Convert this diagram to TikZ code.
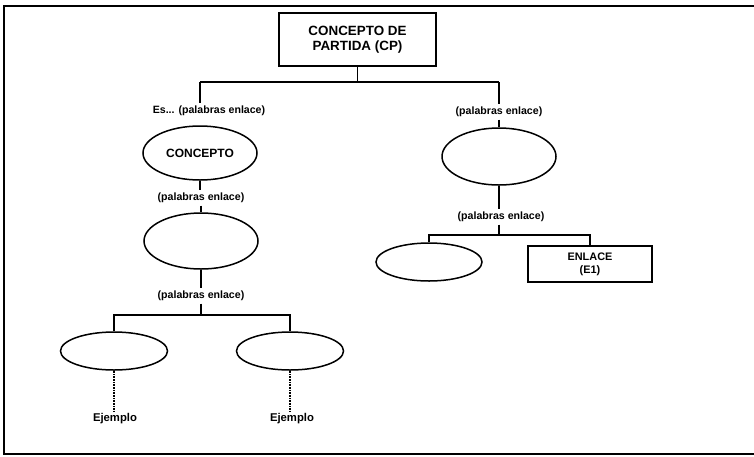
\documentclass[tikz,border=0pt]{standalone}
\usepackage{fontspec}
\setmainfont{Liberation Sans}
\usetikzlibrary{shapes.geometric}
\begin{document}
\begin{tikzpicture}[x=1pt,y=-1pt,
  conn/.style={line width=1.8pt},
  heavy/.style={line width=2.8pt},
  dotline/.style={line width=1.3pt, dash pattern=on 0.8pt off 0.8pt},
  ell/.style={draw, ellipse, line width=1.5pt, inner sep=0pt},
  boxn/.style={draw, rectangle, line width=1.5pt, align=center, inner sep=0pt},
  lab/.style={font=\fontsize{10.6}{12}\selectfont\bfseries, inner sep=2.5pt},
  txt/.style={font=\fontsize{11.3}{12.5}\selectfont\bfseries, inner sep=2pt}]
\useasboundingbox (0,0) rectangle (754,456);
% frame (open on the right)
\draw[line width=2.2pt] (754,6) -- (4,6) -- (4,454) -- (754,454);

% top
\node[boxn, minimum width=157pt, minimum height=53pt,
      font=\fontsize{13.4}{15.5}\selectfont\bfseries] (cp) at (357.5,39.5) {CONCEPTO DE\\PARTIDA (CP)};

% left branch
\node[lab] (l1) at (209,111) {Es... (palabras enlace)};
\node[ell, minimum width=114pt, minimum height=54pt,
      font=\fontsize{12}{13}\selectfont\bfseries] (c1) at (200,153) {CONCEPTO};
\node[lab] (l2) at (201,198) {(palabras enlace)};
\node[ell, minimum width=114pt, minimum height=56pt] (c2) at (201,241) {};
\node[lab] (l3) at (201,296) {(palabras enlace)};
\node[ell, minimum width=107pt, minimum height=38pt] (e1) at (114,351) {};
\node[ell, minimum width=107pt, minimum height=38pt] (e2) at (290,351) {};
\node[txt] (x1) at (115,419) {Ejemplo};
\node[txt] (x2) at (292,419) {Ejemplo};

% right branch
\node[lab] (r1) at (499,112) {(palabras enlace)};
\node[ell, minimum width=114pt, minimum height=57pt] (c3) at (499,156.5) {};
\node[lab] (r2) at (501,217) {(palabras enlace)};
\node[ell, minimum width=106pt, minimum height=38pt] (e3) at (429,262) {};
\node[boxn, minimum width=124pt, minimum height=36pt,
      font=\fontsize{10.9}{13}\selectfont\bfseries] (en) at (590,264) {ENLACE\\(E1)};

% connectors
\coordinate (j1) at (357.5,82);
\draw[conn] (cp.south) -- (j1);
\draw[conn] (c1 |- j1) -- (j1) -- (c3 |- j1);
\draw[conn] (c1 |- j1) -- (c1 |- l1.north);
\draw[conn] (c3 |- j1) -- (c3 |- r1.north);
\draw[conn] (c3 |- r1.south) -- (c3.north);

\draw[conn] (c1.south) -- (c1 |- l2.north);
\draw[conn] (c2 |- l2.south) -- (c2.north);

\coordinate (j2) at (201,315);
\draw[heavy] (c2.south) -- (c2 |- l3.north);
\draw[heavy] (c2 |- l3.south) -- (j2);
\draw[heavy] (e1.north) |- (j2) -| (e2.north);
\draw[dotline] (e1.south) -- (e1 |- x1.north);
\draw[dotline] (e2.south) -- (e2 |- x2.north);

\coordinate (j3) at (499,235);
\draw[heavy] (c3.south) -- (c3 |- r2.north);
\draw[conn] (c3 |- r2.south) -- (j3);
\draw[conn] (e3.north) |- (j3) -| (en.north);
\end{tikzpicture}
\end{document}
